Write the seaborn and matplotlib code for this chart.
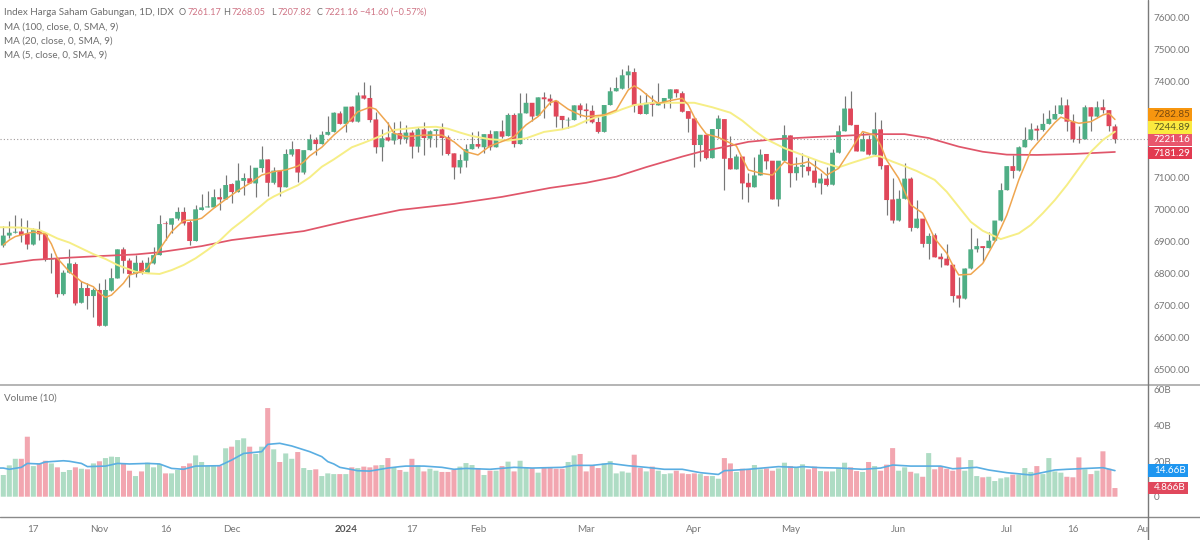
import matplotlib
matplotlib.use("Agg")
import matplotlib.pyplot as plt
from matplotlib.patches import Rectangle
from matplotlib.lines import Line2D
import numpy as np
import seaborn as sns

opens = [6889,6920,6929,6933,6925,6892,6937,6925,6845,6849,
6737,6804,6831,6710,6756,6731,6750,6638,6748,6786,
6877,6842,6800,6835,6804,6833,6859,6958,6954,6973,
6994,6962,6903,7000,7008,7008,7040,7033,7081,7056,
7091,7099,7083,7131,7158,7085,7123,7071,7173,7190,
7117,7187,7219,7206,7235,7244,7302,7269,7323,7276,
7358,7350,7283,7196,7227,7217,7240,7222,7242,7198,
7252,7223,7247,7252,7227,7177,7133,7154,7190,7206,
7196,7237,7196,7246,7231,7297,7206,7302,7335,7294,
7352,7348,7341,7294,7280,7281,7327,7314,7310,7275,
7244,7328,7371,7379,7421,7431,7327,7300,7337,7327,
7335,7348,7377,7365,7309,7286,7203,7235,7162,7253,
7284,7162,7127,7167,7085,7071,7108,7175,7154,7033,
7154,7233,7115,7135,7135,7123,7083,7098,7079,7179,
7246,7317,7266,7183,7221,7173,7252,7140,7033,6967,
7035,7098,6944,6973,6894,6921,6854,6848,6829,6733,
6723,6817,6877,6887,6881,6904,6967,7062,7137,7123,
7196,7219,7254,7250,7269,7283,7300,7327,7276,7222,
7221,7321,7292,7321,7312,7261.17]
closes = [6920,6929,6932,6921,6892,6937,6924,6844,6847,6737,
6804,6833,6708,6756,6731,6750,6638,6750,6787,6877,
6841,6800,6835,6804,6835,6859,6956,6956,6974,6994,
6958,6903,7002,7008,7011,7040,7033,7078,7056,7092,
7100,7083,7132,7158,7085,7123,7071,7175,7190,7117,
7187,7221,7206,7235,7244,7304,7269,7323,7276,7358,
7348,7281,7196,7224,7217,7240,7222,7242,7198,7252,
7225,7246,7252,7225,7175,7133,7156,7190,7206,7198,
7237,7196,7246,7229,7297,7206,7302,7335,7292,7352,
7346,7339,7292,7281,7282,7327,7312,7309,7274,7244,
7328,7371,7381,7421,7433,7327,7300,7335,7329,7337,
7350,7377,7365,7307,7285,7203,7235,7162,7253,7286,
7160,7127,7167,7083,7071,7108,7173,7152,7033,7154,
7234,7115,7135,7140,7121,7085,7098,7078,7179,7246,
7317,7265,7183,7221,7173,7252,7137,7031,6967,7035,
7098,6944,6973,6894,6919,6852,6846,6827,6731,6723,
6817,6877,6887,6881,6904,6967,7062,7137,7122,7196,
7219,7252,7248,7269,7285,7300,7327,7276,7221,7220,
7321,7292,7321,7312,7262,7221.16]
highs = [6951,6964,6984,6974,6969,6943,6967,6927,6865,6854,
6812,6877,6838,6779,6771,6755,6771,6783,6818,6877,
6885,6849,6859,6844,6854,6885,6984,6964,6974,7008,
7008,6969,7016,7049,7060,7065,7068,7109,7083,7148,
7117,7141,7132,7200,7158,7135,7123,7190,7217,7190,
7187,7237,7229,7248,7294,7307,7310,7323,7325,7369,
7401,7391,7307,7252,7276,7274,7279,7266,7250,7260,
7276,7250,7252,7271,7234,7177,7175,7206,7245,7248,
7237,7250,7246,7281,7304,7302,7365,7367,7335,7352,
7370,7362,7341,7294,7292,7327,7333,7333,7328,7292,
7328,7383,7415,7440,7453,7443,7359,7365,7359,7396,
7350,7377,7377,7373,7309,7286,7235,7235,7253,7297,
7284,7231,7175,7167,7115,7165,7190,7175,7154,7154,
7266,7233,7165,7177,7165,7160,7115,7135,7190,7266,
7356,7373,7266,7245,7235,7306,7281,7140,7099,7062,
7146,7102,7031,6973,6927,6927,6865,6894,6829,6792,
6819,6943,6911,6887,6932,6967,7083,7137,7171,7200,
7260,7273,7267,7302,7312,7327,7352,7346,7300,7262,
7328,7321,7340,7346,7312,7268.05]
lows = [6885,6911,6927,6901,6877,6891,6906,6839,6802,6729,
6734,6802,6703,6710,6690,6667,6638,6638,6748,6786,
6804,6758,6792,6800,6802,6831,6859,6906,6927,6969,
6953,6891,6903,7000,7008,7008,7000,7033,7021,7056,
7047,7083,7040,7120,7044,7081,7044,7071,7169,7088,
7112,7187,7172,7206,7235,7244,7269,7245,7276,7276,
7348,7276,7179,7154,7217,7206,7206,7208,7161,7182,
7172,7196,7198,7172,7172,7098,7115,7133,7190,7193,
7179,7187,7196,7224,7231,7196,7206,7302,7279,7294,
7286,7328,7260,7252,7255,7281,7292,7271,7271,7240,
7244,7328,7371,7379,7381,7307,7300,7300,7294,7327,
7318,7318,7354,7307,7245,7135,7154,7158,7162,7224,
7064,7127,7127,7033,7026,7071,7108,7129,7033,7012,
7154,7071,7094,7102,7109,7071,7050,7075,7079,7179,
7246,7265,7183,7183,7173,7173,7127,6984,6958,6967,
7035,6933,6944,6885,6846,6852,6821,6827,6712,6698,
6723,6817,6870,6838,6881,6904,6967,7062,7099,7123,
7196,7219,7219,7248,7269,7283,7300,7248,7214,7208,
7221,7248,7292,7302,7248,7207.82]
volumes = [12.2,17.6,21.3,21.3,33.7,17.2,18.7,20.2,18.7,16.5,
13.9,15.0,16.5,15.7,15.4,18.7,19.9,21.7,22.5,22.3,
18.7,14.6,11.6,14.2,19.1,16.5,18.4,13.1,13.1,15.0,
17.2,18.7,23.2,19.5,17.2,17.2,17.2,27.2,28.1,31.8,
32.8,28.1,24.0,28.1,49.8,26.6,19.5,24.3,21.3,25.1,
16.1,15.0,15.4,11.6,13.1,12.7,12.7,12.7,16.5,16.1,
16.9,16.5,17.6,17.8,21.7,16.5,15.0,14.0,21.3,17.6,
14.2,15.7,14.6,13.9,13.9,15.0,16.9,18.9,17.8,15.9,
12.2,14.6,14.6,17.2,19.7,14.2,20.2,16.3,16.1,13.5,
16.1,16.1,15.7,15.7,19.5,23.2,24.0,14.2,17.6,16.1,
18.7,20.0,13.1,14.2,13.5,23.6,16.1,14.2,16.9,14.6,
12.7,13.1,14.6,13.1,12.7,13.1,12.7,11.6,11.6,10.1,
21.7,18.7,13.9,15.7,15.4,17.8,15.4,15.9,14.6,15.9,
19.1,17.2,16.5,18.2,15.4,16.9,14.4,14.2,14.2,16.1,
19.1,16.5,14.4,13.9,19.5,17.2,14.6,18.0,27.3,14.6,
16.5,14.0,13.1,11.2,24.5,15.4,17.2,15.7,14.6,22.1,
14.6,20.6,11.6,10.9,11.2,8.8,10.3,10.9,12.4,12.4,
16.1,13.9,17.2,12.7,21.7,14.2,13.5,11.2,10.9,22.1,
15.4,12.7,14.6,25.5,15.7,4.87]

ma5_idx = [0,1,2,3,5,7,8,9,11,13,15,16,17,18,20,21,23,24,25,26,28,30,32,33,35,37,39,41,43,45,47,49,
50,51,53,55,57,59,61,62,64,65,67,70,73,75,77,79,81,84,85,87,89,91,92,94,96,97,
100,102,103,104,105,106,108,109,111,113,114,115,116,117,119,122,123,124,126,128,130,131,133,134,136,137,139,141,143,
145,146,147,149,151,153,155,157,158,159,161,163,165,167,169,171,173,175,176,178,179,181,183,184,185]
ma5_val = [6891,6906,6917,6922,6931,6925,6894,6849,6807,6776,6760,6740,6727,6734,6771,6797,6807,6818,6849,6877,6932,6967,6969,6974,7005,7033,7060,7083,7109,7120,7125,7137,
7150,7169,7196,7234,7266,7307,7321,7315,7271,7240,7229,7234,7234,7213,7182,7172,7200,7221,7229,7266,7292,7335,7342,7315,7297,7292,
7297,7312,7344,7375,7388,7377,7346,7333,7342,7349,7328,7290,7262,7237,7227,7200,7161,7125,7115,7109,7151,7141,7146,7151,7125,7109,7130,7187,7245,
7234,7203,7156,7099,7016,6990,6911,6865,6828,6797,6799,6833,6901,6984,7094,7185,7229,7273,7290,7276,7271,7276,7297,7302,7282.85]

ma20_idx = [-1,0,3,6,7,9,11,13,15,17,19,22,24,26,28,30,32,34,36,38,40,42,43,44,45,47,49,
51,53,55,58,60,62,65,69,72,74,76,78,81,84,87,90,93,95,97,
99,101,103,105,108,111,115,118,121,123,125,127,130,133,136,139,141,143,145,
146,148,150,152,155,157,159,161,163,166,167,169,171,173,175,177,179,181,183,185]
ma20_val = [6946,6946,6945,6937,6929,6911,6898,6880,6862,6847,6828,6807,6802,6800,6812,6828,6849,6875,6904,6940,6969,7000,7015,7031,7042,7060,7077,
7102,7135,7158,7196,7210,7225,7250,7258,7260,7254,7242,7231,7221,7217,7224,7244,7252,7262,7279,
7292,7300,7315,7328,7335,7335,7335,7321,7304,7279,7248,7221,7193,7172,7151,7133,7146,7158,7169,
7167,7151,7137,7122,7094,7057,7010,6963,6935,6909,6915,6927,6953,6990,7031,7078,7130,7182,7219,7244.89]

ma100_idx = [-1,0,5,11,16,22,26,33,38,44,50,58,66,75,83,91,97,102,107,113,116,120,124,129,135,140,145,150,154,159,163,167,172,178,185]
ma100_val = [6829,6831,6844,6851,6856,6861,6868,6887,6906,6920,6934,6969,7000,7019,7041,7069,7085,7104,7134,7167,7182,7197,7213,7222,7228,7232,7237,7237,7225,7198,7182,7173,7172,7175,7181.29]

vol_ma_idx = [-1,0,1,3,4,6,7,10,11,13,14,17,19,21,24,26,28,30,32,36,38,40,43,44,46,48,51,53,54,55,56,59,61,64,66,
67,70,73,75,77,81,85,88,93,95,98,101,104,107,110,113,116,119,120,124,129,132,
133,136,139,143,146,148,151,156,158,162,164,167,171,175,177,179,183,185]
vol_ma_val = [16.1,16.1,15.4,16.5,18.7,18.4,19.5,20.2,19.9,18.7,16.9,17.2,18.7,18.4,18.7,18.4,15.9,15.4,17.2,17.4,20.6,24.3,25.3,29.4,30.0,28.5,25.3,22.5,19.7,18.4,16.5,14.6,14.4,16.1,16.9,
17.2,17.2,16.5,15.4,15.9,15.4,16.5,16.1,16.5,17.6,17.6,18.7,17.4,16.5,15.4,15.4,13.5,12.5,14.6,15.4,16.9,16.5,
16.9,16.3,16.1,15.4,16.1,17.8,17.2,17.2,15.7,16.5,15.0,13.5,12.2,15.0,15.4,15.7,16.3,14.66]

price_ticks = [6500,6600,6700,6800,6900,7000,7100,7200,7300,7400,7500,7600]
price_tick_labels = ["6500.00","6600.00","6700.00","6800.00","6900.00","7000.00","7100.00","","","7400.00","7500.00","7600.00"]
volume_ticks = [0,20,40,60]
volume_tick_labels = ["0","20B","40B","60B"]
time_ticks = [5,16,27,38,57,68,79,97,115,131,149,167,178,189.6]
time_labels = ["17","Nov","16","Dec","2024","17","Feb","Mar","Apr","May","Jun","Jul","16","Au"]

W, H = 1200, 540
GREEN, RED = "#4fae85", "#e0475a"
VGREEN, VRED = "#aedcc4", "#f2a6b0"
GREY = "#787878"
FONT = "Lato"
FS = 7.1

sns.set_theme(style="white")
plt.rcParams["font.family"] = [FONT, "DejaVu Sans"]

fig = plt.figure(figsize=(W / 100, H / 100), dpi=100, facecolor="white")
ax = fig.add_axes([0, 1 - 385 / H, 1148 / W, 385 / H])
vax = fig.add_axes([0, 1 - 517 / H, 1148 / W, 132 / H])

idx = np.arange(len(closes))
o, c, h, l = map(np.array, (opens, closes, highs, lows))
up = c >= o

ax.vlines(idx, l, h, color="#777777", lw=0.85, zorder=2)
candles = ax.bar(idx, np.abs(c - o).clip(1.5), bottom=np.minimum(o, c), width=0.8,
                 color=[GREEN if u else RED for u in up], zorder=3, linewidth=0)
for p in candles:
    p.set_snap(False)

ax.axhline(closes[-1], color="#a09a9a", lw=0.8, ls=(0, (1, 2)), zorder=1)
sns.lineplot(x=ma100_idx, y=ma100_val, ax=ax, color="#e0566a", lw=1.25, zorder=4, errorbar=None)
sns.lineplot(x=ma20_idx, y=ma20_val, ax=ax, color="#f6ee86", lw=1.4, zorder=4, errorbar=None)
sns.lineplot(x=ma5_idx, y=ma5_val, ax=ax, color="#efa650", lw=1.1, zorder=5, errorbar=None)

x0, x1 = -0.55, 190.5
ax.set_xlim(x0, x1)
ax.set_ylim(6453, 7656.25)
ax.set_xticks([])
ax.set_xlabel("")
ax.set_ylabel("")
ax.yaxis.tick_right()
ax.set_yticks(price_ticks, price_tick_labels)
ax.tick_params(axis="y", length=0, pad=4, labelsize=FS, labelcolor=GREY)

sns.barplot(x=idx, y=volumes, hue=["u" if u else "d" for u in up],
            palette={"u": VGREEN, "d": VRED}, native_scale=True, dodge=False,
            width=0.84, saturation=1, legend=False, ax=vax, zorder=2, linewidth=0)
for p in vax.patches:
    p.set_snap(False)
sns.lineplot(x=vol_ma_idx, y=vol_ma_val, ax=vax, color="#5aaee2", lw=1.2, zorder=4, errorbar=None)
vax.set_xlim(x0, x1)
vax.set_ylim(-11.4, 62.75)
vax.set_xlabel("")
vax.set_ylabel("")
vax.yaxis.tick_right()
vax.set_yticks(volume_ticks, volume_tick_labels)
vax.set_xticks(time_ticks, time_labels)
vax.tick_params(axis="y", length=0, pad=4, labelsize=FS, labelcolor=GREY)
vax.tick_params(axis="x", length=0, pad=5.5, labelsize=FS, labelcolor=GREY)
for t in vax.get_xticklabels():
    if t.get_text() == "2024":
        t.set_fontweight("bold")
        t.set_color("#555555")

for a in (ax, vax):
    a.patch.set_alpha(0)
    for s in a.spines.values():
        s.set_visible(False)


def px_x(x):
    return x / W


def px_y(y):
    return 1 - y / H


for y, col, lw in [(385, "#a8a8a8", 1.2), (517, "#8a8a8a", 1.0)]:
    fig.add_artist(Line2D([0, 1], [px_y(y)] * 2, color=col, lw=lw))
fig.add_artist(Line2D([px_x(1148)] * 2, [0, 1], color="#7a7a7a", lw=1.0))


def tag(y0, y1, x1, face, text, tc):
    fig.add_artist(Rectangle((px_x(1148), px_y(y1)), (x1 - 1148) / W, (y1 - y0) / H,
                             transform=fig.transFigure, facecolor=face, edgecolor="none", zorder=6))
    fig.text(px_x((1148 + x1) / 2 + 2), px_y((y0 + y1) / 2), text, color=tc, fontsize=FS,
             ha="center", va="center", zorder=7)


tag(108, 120.5, 1192, "#f7960f", "7282.85", "#7a4a10")
tag(120.5, 133.5, 1192, "#fbe93f", "7244.89", "#5a5a20")
tag(134, 146, 1192, "#e8566c", "7221.16", "white")
tag(147, 159, 1192, "#e23a50", "7181.29", "white")
tag(464, 477, 1188, "#1e96f0", "14.66B", "white")
tag(482, 494, 1188, "#e0485c", "4.866B", "white")

LEG = "#6e6e6e"
PINK = "#cf7485"
fig.text(px_x(4), px_y(12.5), "Index Harga Saham Gabungan, 1D, IDX", color=LEG, fontsize=FS, va="center")
for x, s, col in [(179, "O", LEG), (187.5, "7261.17", PINK), (223, "H", LEG), (231.5, "7268.05", PINK),
                  (271.5, "L", LEG), (277.5, "7207.82", PINK), (317, "C", LEG), (324.5, "7221.16", PINK),
                  (360, "\u221241.60 (\u22120.57%)", PINK)]:
    fig.text(px_x(x), px_y(12.5), s, color=col, fontsize=6.6, va="center")
for y, s in [(27, "MA (100, close, 0, SMA, 9)"), (41, "MA (20, close, 0, SMA, 9)"), (55, "MA (5, close, 0, SMA, 9)")]:
    fig.text(px_x(4), px_y(y), s, color=LEG, fontsize=FS, va="center")
fig.text(px_x(4), px_y(398.5), "Volume (10)", color=LEG, fontsize=FS, va="center")

fig.savefig("out.png", dpi=100, facecolor="white")
